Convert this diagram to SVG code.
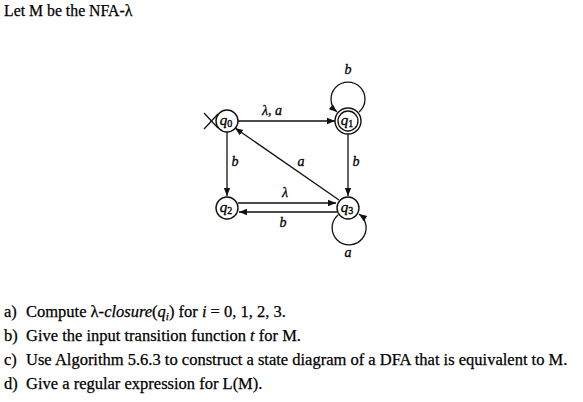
<svg xmlns="http://www.w3.org/2000/svg" width="583" height="402" viewBox="0 0 583 402">
<defs>
<style>
.t{font-family:"Liberation Serif","Times New Roman",serif;font-size:16.5px;fill:#000;stroke:#000;stroke-width:0.25}
.h{font-size:15.8px}
.lb{font-family:"Liberation Serif","Times New Roman",serif;font-size:14px;font-style:italic;fill:#000;stroke:#000;stroke-width:0.3}
.st{fill:#fff;stroke:#111;stroke-width:1.4}
.e{fill:none;stroke:#111;stroke-width:1.3}
.q{font-family:"Liberation Serif","Times New Roman",serif;font-size:15px;font-style:italic;fill:#000;stroke:#000;stroke-width:0.35}
.sub{font-size:10px;font-style:normal}
</style>
<marker id="ah" viewBox="0 0 10 10" refX="10" refY="5" markerWidth="8" markerHeight="8" markerUnits="userSpaceOnUse" orient="auto">
<path d="M0,1 L10,5 L0,9 z" fill="#111"/>
</marker>
</defs>
<rect width="583" height="402" fill="#fff"/>
<text class="t h" x="4" y="16">Let M be the NFA-λ</text>

<g id="connectors">
<line class="e" x1="238" y1="121" x2="335" y2="121" marker-end="url(#ah)"/>
<path class="e" d="M359,112 A17,17 0 1 0 337,112" marker-end="url(#ah)"/>
<line class="e" x1="227" y1="132" x2="227" y2="196" marker-end="url(#ah)"/>
<line class="e" x1="348" y1="134" x2="348" y2="196" marker-end="url(#ah)"/>
<line class="e" x1="339" y1="200" x2="235" y2="128" marker-end="url(#ah)"/>
<line class="e" x1="238" y1="203" x2="336" y2="203" marker-end="url(#ah)"/>
<line class="e" x1="337" y1="212" x2="239" y2="212" marker-end="url(#ah)"/>
<path class="e" d="M338,215 A17,17 0 1 0 359,214" marker-end="url(#ah)"/>
<line class="e" x1="204" y1="113" x2="218" y2="128"/>
<line class="e" x1="204" y1="129" x2="218" y2="114"/>
</g>

<g id="q0"><circle class="st" cx="227" cy="121" r="11"/><text class="q" x="226" y="125" text-anchor="middle">q<tspan class="sub" dy="2">0</tspan></text></g>
<g id="q1"><circle class="st" cx="348" cy="121" r="13"/><circle class="e" cx="348" cy="121" r="10"/><text class="q" x="347" y="125" text-anchor="middle">q<tspan class="sub" dy="2">1</tspan></text></g>
<g id="q2"><circle class="st" cx="227" cy="208" r="11"/><text class="q" x="226" y="212" text-anchor="middle">q<tspan class="sub" dy="2">2</tspan></text></g>
<g id="q3"><circle class="st" cx="348" cy="208" r="11"/><text class="q" x="347" y="212" text-anchor="middle">q<tspan class="sub" dy="2">3</tspan></text></g>

<g id="labels">
<text class="lb" x="272" y="115" text-anchor="middle">λ, a</text>
<text class="lb" x="348" y="74" text-anchor="middle">b</text>
<text class="lb" x="235" y="166" text-anchor="middle">b</text>
<text class="lb" x="356" y="166" text-anchor="middle">b</text>
<text class="lb" x="301" y="166" text-anchor="middle">a</text>
<text class="lb" x="285" y="197" text-anchor="middle">λ</text>
<text class="lb" x="283" y="227" text-anchor="middle">b</text>
<text class="lb" x="348" y="257" text-anchor="middle">a</text>
</g>

<g id="questions">
<text class="t" x="4" y="317">a)</text>
<text class="t" x="26" y="317">Compute λ-<tspan font-style="italic">closure</tspan>(<tspan font-style="italic">q<tspan font-size="11" dy="3">i</tspan></tspan><tspan dy="-3">) for </tspan><tspan font-style="italic">i</tspan> = 0, 1, 2, 3.</text>
<text class="t" x="4" y="341">b)</text>
<text class="t" x="26" y="341">Give the input transition function <tspan font-style="italic">t</tspan> for M.</text>
<text class="t" x="4" y="365">c)</text>
<text class="t" x="26" y="365">Use Algorithm 5.6.3 to construct a state diagram of a DFA that is equivalent to M.</text>
<text class="t" x="4" y="389">d)</text>
<text class="t" x="26" y="389">Give a regular expression for L(M).</text>
</g>
</svg>
